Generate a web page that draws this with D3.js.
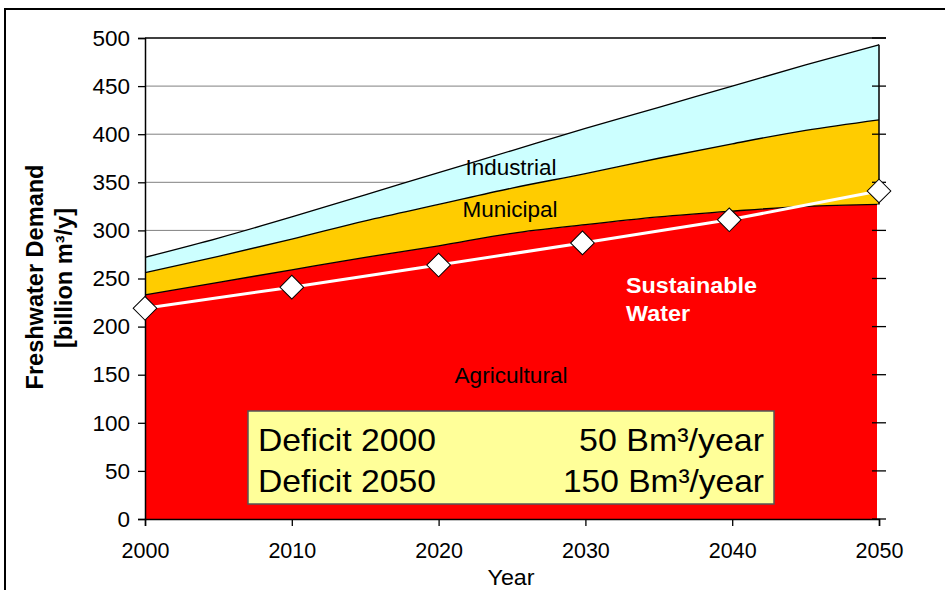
<!DOCTYPE html>
<html><head><meta charset="utf-8">
<script src="https://cdn.jsdelivr.net/npm/d3@7"></script>
<style>body{margin:0;background:#fff}svg{display:block;font-family:Arial,"Liberation Sans",sans-serif}</style>
</head><body><svg id="c" width="945" height="590"></svg>
<script>
const years = [2000,2005,2010,2015,2020,2025,2030,2035,2040,2045,2050];
const agricultural = [233,246,259,272,284,297,306,314,320,325,327];
const municipal    = [23,27,32,38,43,47,53,61,70,79,88];
const industrial   = [16,19,23,27,33,39,47,53,60,68,78];
const sustYears = [2000,2010,2020,2029.8,2039.8,2050];
const sustainable = [219,241,264,287,311,341];
const xTicks = [2000,2010,2020,2030,2040,2050];
const yTicks = [0,50,100,150,200,250,300,350,400,450,500];

(function(){
const svg = d3.select("#c");
const L=145,R=879,T=38,B=519;
const x = d3.scaleLinear().domain([2000,2050]).range([L,R]);
const y = d3.scaleLinear().domain([0,500]).range([B,T]);

svg.append("path").attr("d","M5,600 L5,9 L960,9").attr("fill","none").attr("stroke","#000").attr("stroke-width",2);

svg.append("g").selectAll("line").data(yTicks.filter(d=>d>0&&d<500)).join("line")
  .attr("x1",L).attr("x2",R).attr("y1",d=>y(d)).attr("y2",d=>y(d)).attr("stroke","#808080").attr("stroke-width",1);

const rows = years.map((yr,i)=>({yr,a:agricultural[i],m:municipal[i],ind:industrial[i]}));
const stack = d3.stack().keys(["a","m","ind"])(rows);
const colors = {a:"#FF0000",m:"#FFCC00",ind:"#CCFFFF"};
const area = d3.area().x(d=>x(d.data.yr)).y0(d=>y(d[0])).y1(d=>y(d[1])).curve(d3.curveMonotoneX);
const topLine = d3.line().x(d=>x(d.data.yr)).y(d=>y(d[1])).curve(d3.curveMonotoneX);
stack.forEach(s=>{
  svg.append("path").datum(s).attr("d",area).attr("fill",colors[s.key]);
});
stack.forEach(s=>{
  svg.append("path").datum(s).attr("d",topLine).attr("fill","none").attr("stroke","#000").attr("stroke-width",1.3);
});
const last = stack.map(s=>s[s.length-1]);
svg.append("line").attr("x1",R).attr("x2",R).attr("y1",y(last[2][1])).attr("y2",y(last[0][1])).attr("stroke","#000").attr("stroke-width",1.5);
svg.append("line").attr("x1",R-1).attr("x2",R-1).attr("y1",y(last[0][1])).attr("y2",B).attr("stroke","#fff").attr("stroke-width",2);

svg.append("line").attr("x1",L).attr("x2",R+7).attr("y1",T).attr("y2",T).attr("stroke","#000").attr("stroke-width",1.5);

const yAxis = svg.append("g").attr("transform",`translate(${L},0)`)
  .call(d3.axisLeft(y).tickValues(yTicks).tickSize(7).tickPadding(8));
const xAxis = svg.append("g").attr("transform",`translate(0,${B})`)
  .call(d3.axisBottom(x).tickValues(xTicks).tickFormat(d3.format("d")).tickSize(7).tickPadding(17));
[yAxis,xAxis].forEach(g=>{
  g.select(".domain").attr("stroke","#000").attr("stroke-width",1.5);
  g.selectAll(".tick line").attr("stroke","#000").attr("stroke-width",1.3);
  g.selectAll("text").attr("fill","#000").attr("font-family","Arial, 'Liberation Sans', sans-serif");
});
yAxis.selectAll("text").attr("font-size",22.5);
xAxis.selectAll("text").attr("font-size",21.5);
svg.append("g").selectAll("line").data(yTicks).join("line")
  .attr("x1",R-7).attr("x2",R+7).attr("y1",d=>y(d)).attr("y2",d=>y(d)).attr("stroke","#000").attr("stroke-width",1.3);

const pts = sustYears.map((yr,i)=>[x(yr),y(sustainable[i])]);
svg.append("path").attr("d",d3.line()(pts)).attr("fill","none").attr("stroke","#fff").attr("stroke-width",3);
svg.append("g").selectAll("path").data(pts).join("path")
  .attr("d",d3.symbol(d3.symbolSquare,280))
  .attr("transform",d=>`translate(${d[0]},${d[1]}) rotate(45)`)
  .attr("fill","#fff").attr("stroke","#000").attr("stroke-width",1);

const lab=(t,xx,yy,len,o={})=>svg.append("text").attr("x",xx).attr("y",yy).text(t)
  .attr("font-size",o.fs||22).attr("font-weight",o.fw||"normal").attr("fill",o.fill||"#000")
  .attr("text-anchor",o.anchor||"middle").attr("dominant-baseline","central")
  .attr("textLength",len).attr("lengthAdjust","spacingAndGlyphs");
lab("Industrial",511,167,91);
lab("Municipal",510,209,95);
lab("Agricultural",511,375,113);
lab("Sustainable",626,285,131,{fw:"bold",fill:"#fff",anchor:"start"});
lab("Water",626,313,64,{fw:"bold",fill:"#fff",anchor:"start"});
lab("Year",511,577,47);

svg.append("text").attr("transform","translate(35,277) rotate(-90)")
  .attr("text-anchor","middle").attr("font-weight","bold").attr("font-size",23).attr("dominant-baseline","central")
  .attr("textLength",225).attr("lengthAdjust","spacingAndGlyphs")
  .text("Freshwater Demand");
svg.append("text").attr("transform","translate(64,278) rotate(-90)")
  .attr("text-anchor","middle").attr("font-weight","bold").attr("font-size",23).attr("dominant-baseline","central")
  .attr("textLength",140).attr("lengthAdjust","spacingAndGlyphs")
  .text("[billion m³/y]");

svg.append("rect").attr("x",248).attr("y",411).attr("width",526).attr("height",93)
  .attr("fill","#FFFF99").attr("stroke","#555").attr("stroke-width",1.5);
const bt=(t,xx,yy,anchor,len)=>svg.append("text").attr("x",xx).attr("y",yy).text(t)
  .attr("font-size",32).attr("text-anchor",anchor).attr("dominant-baseline","central")
  .attr("textLength",len).attr("lengthAdjust","spacingAndGlyphs");
bt("Deficit 2000",258,440,"start",178);
bt("Deficit 2050",258,481,"start",178);
bt("50 Bm³/year",764,440,"end",185);
bt("150 Bm³/year",764,481,"end",201);
})();
</script></body></html>
